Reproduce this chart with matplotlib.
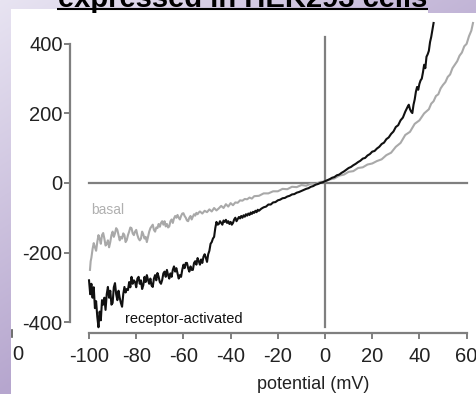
import matplotlib
matplotlib.use('Agg')
import matplotlib.pyplot as plt
import numpy as np
from matplotlib.patches import Rectangle

plt.rcParams['font.family'] = ['Liberation Sans', 'DejaVu Sans']

# ---------------- data ----------------
act_mv = [-100, -99.5, -99, -98.5, -98, -97.5, -97, -96.5, -96, -95.5, -95, -94.5, -94, -93.5, -93,
          -92.5, -92, -91.5, -91, -90.5, -90, -89.5, -89, -88.5, -88, -87.5, -87, -86.5, -86, -85.5,
          -85, -84.5, -84, -83.5, -83, -82.5, -82, -81.5, -81, -80.5, -80, -79.5, -79, -78.5, -78,
          -77.5, -77, -76.5, -76, -75.5, -75, -74.5, -74, -73.5, -73, -72.5, -72, -71.5, -71, -70.5,
          -70, -69.5, -69, -68.5, -68, -67.5, -67, -66.5, -66, -65.5, -65, -64.5, -64, -63.5, -63,
          -62.5, -62, -61.5, -61, -60.5, -60, -59.5, -59, -58.5, -58, -57.5, -57, -56.5, -56, -55.5,
          -55, -54.5, -54, -53.5, -53, -52.5, -52, -51.5, -51, -50.5, -50, -49.5, -49, -48.5, -48,
          -47.5, -47, -46.5, -46, -45.5, -45, -44.5, -44, -43.5, -43, -42.5, -42, -41.5, -41, -40.5,
          -40, -39.5, -39, -38.5, -38, -37.5, -37, -36.5, -36, -35.5, -35, -34.5, -34, -33.5, -33,
          -32.5, -32, -31.5, -31, -30.5, -30, -29.5, -29, -28.5, -28, -27, -26,
          -25, -24, -23, -22, -21, -20, -19, -18, -17, -16, -15, -14, -13, -12, -11, -10, -9, -8, -7,
          -6, -5, -4, -3, -2, -1, 0, 1, 2, 3, 4, 5, 6, 7, 8, 9, 10,
          11, 12, 13, 14, 15, 16, 17, 18, 19, 20, 21, 22, 23, 24, 25, 26, 27, 28, 29, 30, 31, 32, 33, 34,
          35, 35.5, 36, 36.5,
          37, 37.5, 38, 38.5, 39, 39.5, 40, 40.5, 41, 41.5, 42, 42.5, 43, 43.5, 44, 44.5, 45, 45.5, 46]
act_pa = [-280, -320, -290, -330, -300, -360, -340, -385, -415, -370, -395, -337, -350, -330, -365,
          -320, -299, -330, -310, -350, -345, -300, -288, -320, -337, -310, -330, -345, -356, -320,
          -299, -315, -305, -308, -285, -300, -270, -290, -280, -285, -300, -275, -270, -290, -280,
          -305, -294, -270, -285, -265, -279, -290, -275, -295, -299, -275, -265, -280, -259, -270,
          -285, -290, -279, -260, -255, -270, -250, -265, -275, -260, -270, -250, -240, -255, -245,
          -260, -275, -265, -270, -250, -235, -245, -230, -230, -245, -255, -240, -250, -250, -230,
          -225, -235, -216, -225, -235, -220, -230, -212, -205, -215, -227, -205, -195, -175, -170,
          -160, -155, -130, -112, -120, -118, -110, -115, -120, -108, -112, -106, -115, -110, -118,
          -112, -120, -115, -105, -100, -110, -104, -98, -102, -95, -100, -93, -97, -90, -94,
          -88, -92, -85, -89, -83, -86, -80, -84, -77, -80, -74, -70,
          -68, -62, -62, -56, -55, -50, -48, -44, -43, -39, -37, -33, -32, -28, -26, -23, -20, -17, -15,
          -11, -9, -5, -3, 0, 2, 5, 8, 11, 15, 17, 22, 24, 29, 33, 38, 43,
          46, 51, 55, 60, 64, 70, 72, 79, 83, 90, 92, 99, 104, 112, 116, 126, 131, 141, 148, 161, 166, 180, 188, 205,
          219, 225, 212, 205,
          201, 225, 240, 262, 276, 268, 285, 295, 300, 318, 340, 330, 363, 370, 380, 405, 420, 440, 460]

bas_mv = [-99.6, -99.3, -99, -98.5, -98, -97.5, -97, -96.5, -96, -95.5, -95, -94.5, -94, -93.5, -93,
          -92.5, -92, -91.5, -91, -90.5, -90, -89.5, -89, -88.5, -88, -87.5, -87, -86.5, -86, -85.5,
          -85, -84.5, -84, -83.5, -83, -82.5, -82, -81.5, -81, -80.5, -80, -79.5, -79, -78.5, -78,
          -77.5, -77, -76.5, -76, -75.5, -75, -74.5, -74, -73.5, -73, -72.5, -72, -71.5, -71, -70.5,
          -70, -69.5, -69, -68.5, -68, -67.5, -67, -66.5, -66, -65.5, -65, -64.5, -64, -63.5, -63,
          -62.5, -62, -61.5, -61, -60.5, -60, -59.5, -59, -58.5, -58, -57.5, -57, -56.5, -56, -55.5,
          -55, -54.5, -54, -53.5, -53, -52, -51, -50, -49, -48, -47, -46, -45, -44, -43, -42, -41,
          -40, -39, -38, -37, -36, -35, -34, -33, -32, -31, -30, -28, -26, -24, -22, -20, -18, -16,
          -14, -12, -10, -8, -6, -4, -2, 0, 2, 4, 6, 8, 10, 12, 14, 16, 18, 20, 22, 24, 26, 28, 30,
          32, 34, 36, 38, 40, 42, 44, 45, 46, 47, 48, 49, 50, 51, 52, 53, 54, 55, 56, 57, 58, 59, 60,
          61, 62, 62.7]
bas_pa = [-250, -225, -215, -190, -173, -185, -195, -170, -150, -160, -175, -150, -144, -160, -180,
          -175, -165, -185, -170, -150, -140, -155, -145, -130, -135, -150, -165, -155, -160, -145,
          -150, -170, -164, -150, -140, -128, -130, -145, -150, -140, -135, -150, -160, -165, -160,
          -140, -148, -160, -155, -170, -155, -140, -130, -125, -120, -135, -140, -128, -130, -118,
          -126, -115, -110, -120, -110, -125, -118, -128, -125, -110, -105, -115, -102, -95, -100,
          -92, -100, -105, -95, -88, -87, -95, -100, -108, -110, -100, -95, -105, -97, -90,
          -94, -86, -90, -85, -82, -88, -80, -84, -76, -82, -72, -79, -73, -66, -72, -61, -68,
          -58, -64, -56, -57, -50, -51, -46, -47, -42, -45, -38, -37, -30, -30, -24, -24, -17, -18,
          -11, -12, -6, -8, -2, -3, 3, 4, 10, 13, 21, 24, 32, 34, 43, 45, 53, 56, 63, 68, 80, 87, 104,
          115, 138, 147, 170, 180, 200, 212, 228, 235, 250, 255, 272, 282, 290, 305, 312, 330, 340, 350, 366, 375, 393, 400,
          422, 438, 460]

x_ticks = [-100, -80, -60, -40, -20, 0, 20, 40, 60]
y_ticks = [-400, -200, 0, 200, 400]

# ---------------- figure ----------------
W, H = 477, 394
fig = plt.figure(figsize=(W / 100, H / 100), dpi=100)

bg = fig.add_axes([0, 0, 1, 1])
bg.set_axis_off()
yy, xx = np.mgrid[0:H, 0:W]
t = np.clip(0.75 * xx / W + yy / H, 0, 1)
light = np.array([232, 228, 242]) / 255
dark = np.array([182, 166, 206]) / 255
img = light + (dark - light) * t[..., None]
bg.imshow(img, extent=[0, W, H, 0], aspect='auto')
bg.set_xlim(0, W)
bg.set_ylim(H, 0)
bg.add_patch(Rectangle((11, 13), W - 11, H - 13, color='white', lw=0))
bg.add_patch(Rectangle((11, 9), 428 - 11, 4, color='white', lw=0))
bg.plot([57, 428], [8.5, 8.5], color='black', lw=1.5, solid_capstyle='butt')
bg.text(242.5, 6.5, 'expressed in HEK293 cells', ha='center', va='baseline',
        fontsize=21, fontweight='bold', color='black')
bg.text(313, 389, 'potential (mV)', ha='center', va='baseline', fontsize=13, color='#222222')
bg.text(18, 360, '0', ha='center', va='baseline', fontsize=14.5, color='#222222')
bg.plot([12, 12], [330, 337], color='#555555', lw=1.2)

ax = fig.add_axes([60 / W, (H - 345) / H, (W - 60) / W, 330 / H])
ax.patch.set_alpha(0)
ax.set_xlim(-112.3, 64.4)
ax.set_ylim(-466, 483)

axis_col = '#7f7f7f'
ax.plot([-100, 60], [0, 0], color=axis_col, lw=1.6, zorder=1)
ax.plot([0, 0], [-415, 420], color=axis_col, lw=1.6, zorder=1)

ax.plot(bas_mv, bas_pa, color='#a9a9a9', lw=1.5, zorder=2)
ax.plot(act_mv, act_pa, color='#111111', lw=1.5, zorder=3)

ax.text(-99.2, -89, 'basal', color='#b0b0b0', fontsize=10, ha='left', va='baseline')
ax.text(-84.7, -403, 'receptor-activated', color='#111111', fontsize=10.5, ha='left', va='baseline')

for s in ['top', 'right']:
    ax.spines[s].set_visible(False)
ax.spines['left'].set_position(('data', -108))
ax.spines['left'].set_bounds(-400, 400)
ax.spines['bottom'].set_position(('data', -432))
ax.spines['bottom'].set_bounds(-100, 60)
for s in ['left', 'bottom']:
    ax.spines[s].set_color(axis_col)
    ax.spines[s].set_linewidth(1.6)

ax.set_xticks(x_ticks)
ax.set_yticks(y_ticks)
ax.set_xticklabels([str(v) for v in x_ticks])
ax.set_yticklabels([str(v) for v in y_ticks])
ax.tick_params(axis='both', direction='out', length=4, width=1.4, color=axis_col,
               labelsize=14.5, labelcolor='#222222')
ax.tick_params(axis='x', pad=6)
ax.tick_params(axis='y', pad=1.5)

fig.savefig('out.png', dpi=100)
